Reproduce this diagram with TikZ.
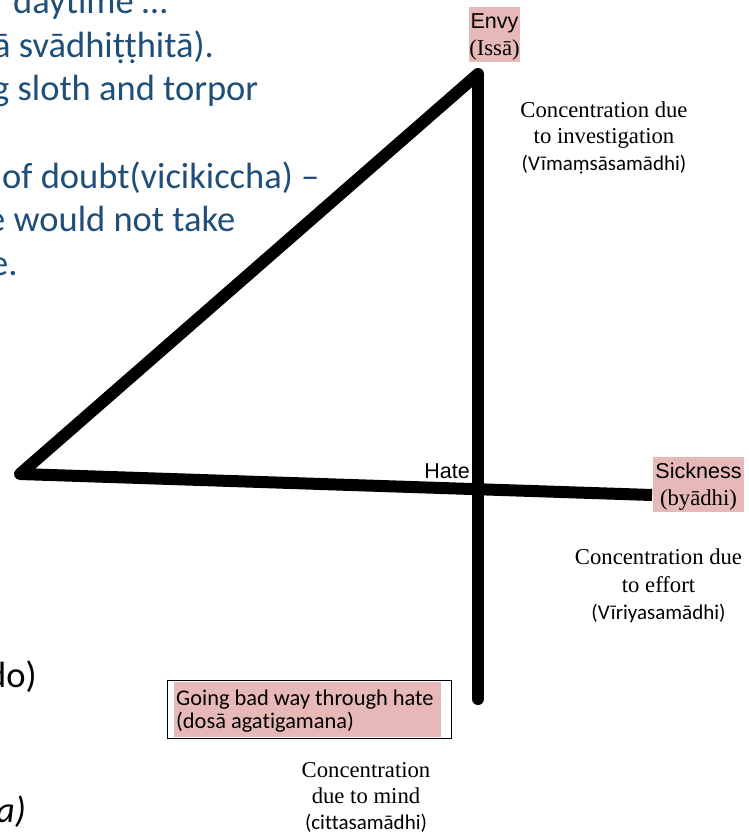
\documentclass[tikz,border=0pt]{standalone}
\usepackage{fontspec}
\setmainfont{Liberation Serif}
\newfontfamily\arialf{Liberation Sans}
\newfontfamily\calf[Ligatures=NoCommon]{Carlito}
\definecolor{pinkhl}{RGB}{230,184,183}
\definecolor{bodyblue}{RGB}{31,78,121}
\tikzset{
  stroke/.style={line width=12pt, draw=black},
  lbl/.style={inner sep=0pt, anchor=base},
  bluetxt/.style={inner sep=0pt, anchor=base west, text=bodyblue, font=\calf\fontsize{36.5}{43.6}\selectfont},
  blacktxt/.style={inner sep=0pt, anchor=base west, text=black, font=\calf\fontsize{36.5}{43.6}\selectfont},
  seriflbl/.style={lbl, font=\fontsize{22.7}{27}\selectfont},
  sanskritlbl/.style={lbl, font=\calf\fontsize{21}{25}\selectfont},
  ariallbl/.style={lbl, font=\arialf\fontsize{21.5}{25}\selectfont},
  boxtxt/.style={inner sep=0pt, anchor=base west, font=\calf\fontsize{22.4}{24}\selectfont},
  hlfill/.style={fill=pinkhl, draw=none},
}
\begin{document}
\begin{tikzpicture}[x=1pt,y=-1pt]
\useasboundingbox (0,0) rectangle (749,835);
\clip (0,0) rectangle (749,835);

% highlight boxes
\fill[hlfill] (469,7) rectangle (520,62);
\fill[hlfill] (653,457) rectangle (744,512);
\draw[line width=1pt] (167,680) rectangle (451,738);
\fill[hlfill] (174,682) rectangle (441,737);

% the figure
\coordinate (top) at (478,74);
\coordinate (left) at (20,474);
\coordinate (right) at (652,495);
\coordinate (bottom) at (478,699);
\draw[stroke, line cap=round] (bottom) -- (top);
\draw[stroke, line join=round] (top) -- (left) -- (right);

% background slide text (clipped)
\node[bluetxt] (t1) at (13,13.5) {daytime …};
\node[bluetxt] (t2) at (-7,57) {ā svādhiṭṭhitā).};
\node[bluetxt] (t3) at (-8,100.5) {g sloth and torpor};
\node[bluetxt] (t4) at (2,188) {of doubt(vicikiccha) –};
\node[bluetxt] (t5) at (-13,231.5) {e would not take};
\node[bluetxt] (t6) at (-10,275) {e.};
\node[blacktxt] (t7) at (-13,687) {do)};
\node[blacktxt, font=\calf\itshape\fontsize{36.5}{43.6}\selectfont] (t8) at (-4,822) {a)};

% labels
\node[ariallbl] (envy) at (494.5,28) {Envy};
\node[seriflbl] (issa) at (494.5,55) {(Issā)};
\node[ariallbl] (sick) at (698.5,478) {Sickness};
\node[seriflbl] (byadhi) at (698.5,505) {(byādhi)};
\node[ariallbl, anchor=base east] (hate) at (470,478) {Hate};

\node[seriflbl] (inv1) at (604,117) {Concentration due};
\node[seriflbl] (inv2) at (604,143) {to investigation};
\node[sanskritlbl] (inv3) at (604,170) {(Vīmaṃsāsamādhi)};

\node[seriflbl] (eff1) at (658.5,564) {Concentration due};
\node[seriflbl] (eff2) at (658.5,592) {to effort};
\node[sanskritlbl] (eff3) at (658.5,619) {(Vīriyasamādhi)};

\node[seriflbl] (mind1) at (366,777) {Concentration};
\node[seriflbl] (mind2) at (366,803) {due to mind};
\node[sanskritlbl] (mind3) at (366,829) {(cittasamādhi)};

\node[boxtxt] (bad1) at (176,705) {Going bad way through hate};
\node[boxtxt] (bad2) at (176,728) {(dosā agatigamana)};
\end{tikzpicture}
\end{document}
